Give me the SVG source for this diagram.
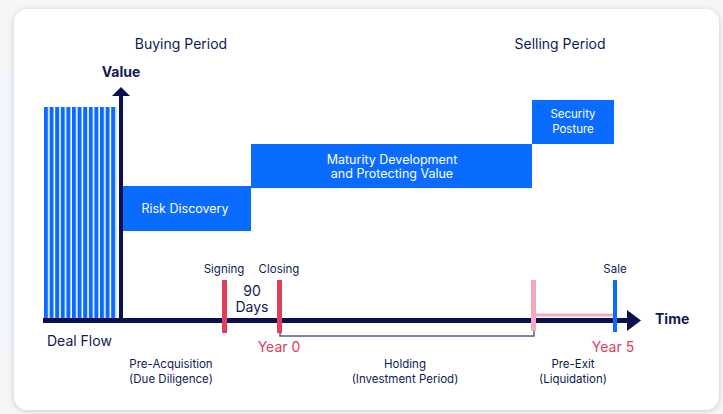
<svg xmlns="http://www.w3.org/2000/svg" width="723" height="414" viewBox="0 0 723 414">
<defs>
<filter id="sh" x="-5%" y="-5%" width="110%" height="110%">
<feGaussianBlur in="SourceAlpha" stdDeviation="3"/>
<feOffset dx="0" dy="1"/>
<feComponentTransfer><feFuncA type="linear" slope="0.18"/></feComponentTransfer>
<feMerge><feMergeNode/><feMergeNode in="SourceGraphic"/></feMerge>
</filter>
<pattern id="bars" x="44" y="0" width="5.6" height="10" patternUnits="userSpaceOnUse">
<rect x="0" y="0" width="4" height="10" fill="#0a6cff"/>
</pattern>
</defs>
<style>
text{font-family:Inter,"Noto Sans","Liberation Sans",sans-serif;}
.nv{fill:#101a55;}
.hd{font-size:14px;}
.lb{font-size:11.5px;}
.wt{fill:#ffffff;font-size:12.5px;}
.sm{fill:#ffffff;font-size:11.5px;}
.bx{fill:#0a6cff;}
.red{fill:#e0405a;font-size:14px;}
.bd{font-weight:bold;font-size:14px;}
</style>
<rect x="0" y="0" width="723" height="414" fill="#f6f6f7"/>
<rect x="0" y="70" width="20" height="285" fill="#f1f6fe"/>
<rect x="14" y="9" width="705" height="401" rx="14" fill="#ffffff" filter="url(#sh)"/>

<g id="titles">
<text class="nv hd" x="181" y="49" text-anchor="middle">Buying Period</text>
<text class="nv hd" x="560" y="49" text-anchor="middle">Selling Period</text>
</g>

<g id="deal-flow">
<rect x="44" y="107" width="73" height="213" fill="url(#bars)"/>
<text class="nv hd" x="47" y="346">Deal Flow</text>
</g>

<g id="risk-discovery">
<rect class="bx" x="121" y="186" width="130" height="45"/>
<text class="wt" x="185" y="213" text-anchor="middle">Risk Discovery</text>
</g>
<g id="maturity">
<rect class="bx" x="251" y="144" width="281" height="44"/>
<text class="wt" x="392" y="164" text-anchor="middle">Maturity Development</text>
<text class="wt" x="392" y="178" text-anchor="middle">and Protecting Value</text>
</g>
<g id="security-posture">
<rect class="bx" x="532" y="100" width="82" height="44"/>
<text class="sm" x="573" y="118" text-anchor="middle">Security</text>
<text class="sm" x="573" y="133" text-anchor="middle">Posture</text>
</g>

<g id="connectors">
<polyline points="280,320 280,336 534,336 534,328" fill="none" stroke="#4f5d8c" stroke-width="1.5"/>
<line x1="536" y1="315" x2="613" y2="315" stroke="#f6a8bd" stroke-width="3"/>
</g>

<g id="axes">
<rect x="119" y="95" width="4" height="226" fill="#0b1150"/>
<polygon points="121,87 112,96 130,96" fill="#0b1150"/>
<rect x="43" y="318" width="586" height="5" fill="#0b1150"/>
<polygon points="641,320.5 627,310 627,331" fill="#0b1150"/>
<text class="nv bd" x="121" y="77" text-anchor="middle">Value</text>
<text class="nv bd" x="655" y="324">Time</text>
</g>

<g id="signing">
<rect x="222" y="280" width="5" height="53" fill="#e0405a"/>
<text class="nv lb" x="224" y="273" text-anchor="middle">Signing</text>
</g>
<g id="closing">
<rect x="277" y="280" width="5" height="53" fill="#e0405a"/>
<text class="nv lb" x="279" y="273" text-anchor="middle">Closing</text>
<text class="red" x="279" y="352" text-anchor="middle">Year 0</text>
</g>
<g id="ninety-days">
<text class="nv hd" x="252" y="296" text-anchor="middle">90</text>
<text class="nv hd" x="252" y="312" text-anchor="middle">Days</text>
</g>
<g id="pre-exit-marker">
<rect x="531" y="280" width="5" height="51" fill="#f6a8bd"/>
</g>
<g id="sale">
<rect x="613" y="280" width="4" height="52" fill="#0a6cff"/>
<text class="nv lb" x="615" y="273" text-anchor="middle">Sale</text>
<text class="red" x="613" y="352" text-anchor="middle">Year 5</text>
</g>

<g id="phases">
<text class="nv lb" x="171" y="368" text-anchor="middle">Pre-Acquisition</text>
<text class="nv lb" x="171" y="383" text-anchor="middle">(Due Diligence)</text>
<text class="nv lb" x="405" y="368" text-anchor="middle">Holding</text>
<text class="nv lb" x="405" y="383" text-anchor="middle">(Investment Period)</text>
<text class="nv lb" x="573" y="368" text-anchor="middle">Pre-Exit</text>
<text class="nv lb" x="573" y="383" text-anchor="middle">(Liquidation)</text>
</g>
</svg>
